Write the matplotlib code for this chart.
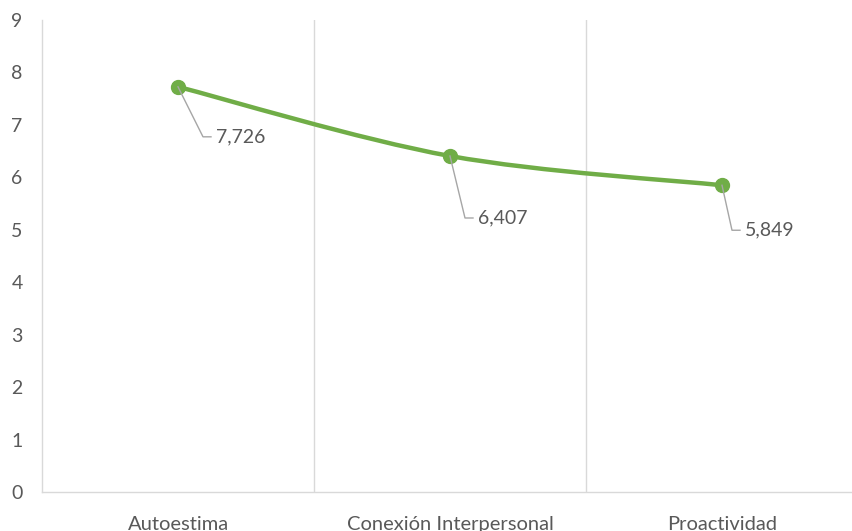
import matplotlib
matplotlib.use("Agg")
import matplotlib.pyplot as plt
from matplotlib.path import Path
from matplotlib.patches import PathPatch
from matplotlib.lines import Line2D
import numpy as np

categories = ["Autoestima", "Conexión Interpersonal", "Proactividad"]
values = [7.726, 6.407, 5.849]
y_ticks = [0, 1, 2, 3, 4, 5, 6, 7, 8, 9]

GREEN = "#70AD47"
GRID = "#D9D9D9"
TXT = "#595959"
FONT = "Lato"

fig = plt.figure(figsize=(8.52, 5.31), dpi=100)
L, R, B, T = 42, 858, 492, 20
W, H = 852, 531
ax = fig.add_axes([L / W, (H - B) / H, (R - L) / W, (B - T) / H])
ax.set_xlim(-0.5, len(categories) - 0.5)
ax.set_ylim(0, 9)

for s in ["top", "right"]:
    ax.spines[s].set_visible(False)
for s in ["left", "bottom"]:
    ax.spines[s].set_color(GRID)
    ax.spines[s].set_linewidth(1)

x = np.arange(len(categories))
ax.set_xticks(x)
ax.set_xticklabels(categories, fontfamily=FONT, fontsize=14.5, color=TXT)
ax.set_yticks(y_ticks)
ax.set_yticklabels([str(t) for t in y_ticks], fontfamily=FONT, fontsize=14, color=TXT)
ax.tick_params(axis="both", length=0)
ax.tick_params(axis="y", pad=14)
ax.tick_params(axis="x", pad=17)
ax.set_xticks(np.arange(len(categories)) + 0.5, minor=True)
ax.tick_params(axis="x", which="minor", length=0)
ax.grid(True, axis="x", which="minor", color=GRID, linewidth=1)
ax.grid(False, axis="x", which="major")
ax.set_axisbelow(True)

# smoothed line via cubic Bezier (Excel-style smoothing)
pts = list(zip(x.astype(float), values))
P = [pts[0]] + pts + [pts[-1]]
verts = [pts[0]]
codes = [Path.MOVETO]
for i in range(1, len(P) - 2):
    p0, p1, p2, p3 = np.array(P[i - 1]), np.array(P[i]), np.array(P[i + 1]), np.array(P[i + 2])
    c1 = p1 + (p2 - p0) / 6.0
    c2 = p2 - (p3 - p1) / 6.0
    verts += [tuple(c1), tuple(c2), tuple(p2)]
    codes += [Path.CURVE4] * 3
ax.add_patch(PathPatch(Path(verts, codes), facecolor="none", edgecolor=GREEN,
                       linewidth=3.2, capstyle="round", zorder=3))
ax.plot(x, values, linestyle="none", marker="o", markersize=10,
        color=GREEN, zorder=4)

# data labels with leader lines (offsets in pixels)
offsets = [(25, 50), (15, 62), (10, 45)]
fig.canvas.draw()
for xi, v, (dx, dy) in zip(x, values, offsets):
    px, py = ax.transData.transform((xi, v))
    cx, cy = px + dx, py - dy
    line = Line2D([px, cx, cx + 8], [py, cy, cy], transform=None,
                  color="#A6A6A6", linewidth=1, zorder=5)
    fig.add_artist(line)
    fig.text((cx + 13) / W, cy / H, f"{v:.3f}".replace(".", ","),
             fontfamily=FONT, fontsize=14, color=TXT, ha="left", va="center")

fig.savefig("out.png", dpi=100)
